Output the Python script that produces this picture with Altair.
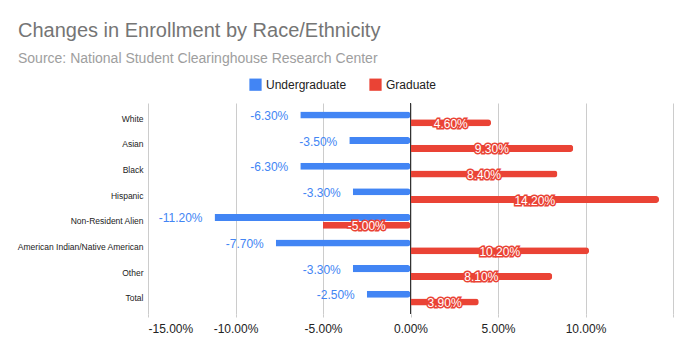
import altair as alt
import pandas as pd

categories = ["White", "Asian", "Black", "Hispanic", "Non-Resident Alien",
              "American Indian/Native American", "Other", "Total"]
undergrad = [-6.3, -3.5, -6.3, -3.3, -11.2, -7.7, -3.3, -2.5]
graduate = [4.6, 9.3, 8.4, 14.2, -5.0, 10.2, 8.1, 3.9]
series = ["Undergraduate", "Graduate"]
colors = ["#4285f4", "#ea4335"]

rows = []
for c, u, g in zip(categories, undergrad, graduate):
    rows.append({"category": c, "series": "Undergraduate", "value": u, "label": f"{u:.2f}%"})
    rows.append({"category": c, "series": "Graduate", "value": g, "label": f"{g:.2f}%"})
df = pd.DataFrame(rows)

FONT = "Liberation Sans"

y = alt.Y("category:N", sort=categories, title=None,
          scale=alt.Scale(paddingInner=0.42, paddingOuter=0.33),
          axis=alt.Axis(ticks=False, domain=False, grid=False, labelFontSize=8.5,
                        labelColor="#222222", labelPadding=5, labelFont=FONT))
yoff = alt.YOffset("series:N", sort=series, scale=alt.Scale(paddingInner=0.1))

x_axis = alt.Axis(values=[-15, -10, -5, 0, 5, 10, 15], grid=True, gridColor="#cccccc",
                  domain=False, ticks=True, tickColor="#cccccc", tickSize=3,
                  labelExpr="datum.value >= 15 ? '' : replace(format(datum.value, '.2f'), '\u2212', '-') + '%'",
                  labelFontSize=12, labelColor="#222222", labelPadding=6, labelFont=FONT,
                  title=None)

base = alt.Chart(df)

bars = base.mark_bar(cornerRadiusEnd=3).encode(
    x=alt.X("value:Q", scale=alt.Scale(domain=[-15, 15], nice=False), axis=x_axis),
    y=y,
    yOffset=yoff,
    color=alt.Color("series:N", sort=series,
                    scale=alt.Scale(domain=series, range=colors),
                    legend=alt.Legend(title=None, orient="none", direction="horizontal",
                                      legendX=101, legendY=-25, symbolType="square",
                                      symbolSize=150, symbolStrokeWidth=0,
                                      labelFontSize=12, labelColor="#222222",
                                      labelFont=FONT, columnPadding=22)),
)

zero = alt.Chart(pd.DataFrame({"z": [0]})).mark_rule(color="#333333", strokeWidth=1).encode(
    x=alt.X("z:Q")
)

ulabels = base.transform_filter("datum.series == 'Undergraduate'").mark_text(
    align="right", baseline="middle", dx=-12, dy=1, fontSize=12, color="#4285f4", font=FONT
).encode(x="value:Q", y=y, yOffset=yoff, text="label:N")

glabels_stroke = base.transform_filter("datum.series == 'Graduate'").transform_calculate(
    mid="datum.value / 2").mark_text(
    align="center", baseline="middle", dy=1, fontSize=12, color="#ea4335",
    stroke="#ea4335", strokeWidth=3, font=FONT
).encode(x="mid:Q", y=y, yOffset=yoff, text="label:N")

glabels = base.transform_filter("datum.series == 'Graduate'").transform_calculate(
    mid="datum.value / 2").mark_text(
    align="center", baseline="middle", dy=1, fontSize=12, color="#ffffff", font=FONT
).encode(x="mid:Q", y=y, yOffset=yoff, text="label:N")

chart = alt.layer(bars, zero, ulabels, glabels_stroke, glabels).properties(
    width=525, height=211,
    title=alt.TitleParams(
        "Changes in Enrollment by Race/Ethnicity",
        subtitle="Source: National Student Clearinghouse Research Center",
        anchor="start", frame="group", dx=-130, offset=12,
        font=FONT, fontSize=20, fontWeight="normal", color="#757575",
        subtitleFont=FONT, subtitleFontSize=14, subtitleColor="#9e9e9e",
        subtitlePadding=11,
    ),
    autosize=alt.AutoSizeParams(type="none"),
    padding={"left": 148, "top": 103, "right": 17, "bottom": 39},
).configure(background="white").configure_view(stroke=None)

chart.save("out.html", embed_options={"renderer": "svg", "actions": False})
